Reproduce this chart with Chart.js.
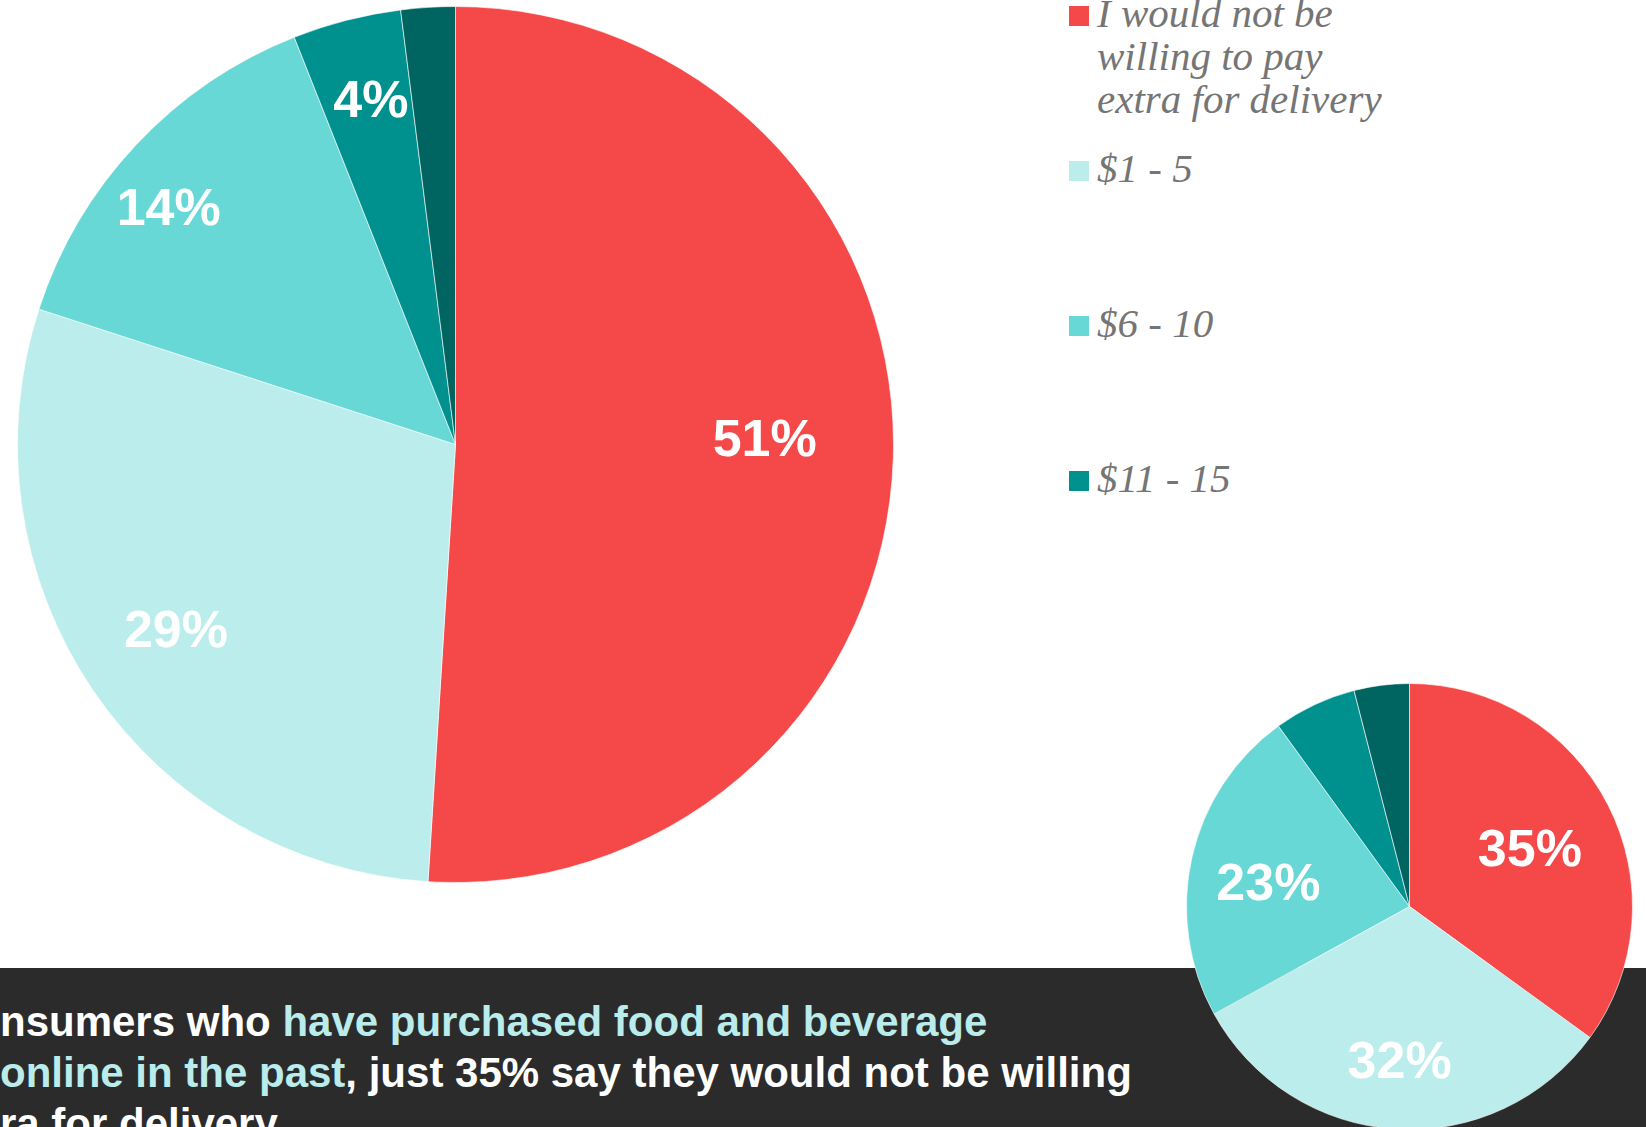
<!DOCTYPE html>
<html>
<head>
<meta charset="utf-8">
<script src="https://cdn.jsdelivr.net/npm/chart.js@4/dist/chart.umd.min.js"></script>
<style>
  html, body { margin: 0; padding: 0; width: 1646px; height: 1127px; overflow: hidden; background: #ffffff; }
  #band { position: absolute; left: 0; top: 968px; width: 1646px; height: 159px; background: #2b2b2b; z-index: 0; }
  #band .line { position: absolute; left: 0; white-space: nowrap; color: #ffffff;
    font-family: "Liberation Sans", Arial, sans-serif; font-weight: bold; font-size: 42px; line-height: 42px; }
  #band .hl { color: #b9eceb; }
  .pie { position: absolute; z-index: 1; }
  #legend { position: absolute; left: 1069px; top: 0; z-index: 2; }
  .item { position: absolute; left: 0; width: 400px; }
  .swatch { position: absolute; left: 0; width: 20px; height: 20px; }
  .label { position: absolute; left: 28px; white-space: nowrap; color: #757575;
    font-family: "Liberation Serif", "DejaVu Serif", serif; font-style: italic; font-size: 41px; line-height: 43px; }
</style>
</head>
<body>
<div id="band"></div>
<div id="legend"></div>
<div class="pie" style="left:17px; top:6px;"><canvas id="bigPie" width="877" height="877"></canvas></div>
<div class="pie" style="left:1186px; top:683px;"><canvas id="smallPie" width="447" height="447"></canvas></div>
<script>
// Answer categories (the last one has no legend entry)
const categories = ["I would not be willing to pay extra for delivery", "$1 - 5", "$6 - 10", "$11 - 15", "More than $15"];
const legendLines = [["I would not be", "willing to pay", "extra for delivery"], ["$1 - 5"], ["$6 - 10"], ["$11 - 15"]];
const sliceColors = ["#f54848", "#baedeb", "#67d8d5", "#00918e", "#006461"];

// All consumers (large pie) and past online food & beverage buyers (small pie), in percent
const allConsumers = [51, 29, 14, 4, 2];
const pastBuyers = [35, 32, 23, 6, 4];

// Which slices carry a percentage label
const allConsumersLabelled = [true, true, true, true, false];
const pastBuyersLabelled = [true, true, true, false, false];

// Caption lines in the dark band: [text, highlighted]
const captionLines = [
  [["nsumers who ", false], ["have purchased food and beverage", true]],
  [["online in the past", true], [", just 35% say they would not be willing", false]],
  [["ra for delivery.", false]]
];

// Percent labels drawn inside the slices; radius is a fraction of the outer
// radius, shift nudges the label around the slice's middle angle (degrees)
const sliceLabels = {
  id: 'sliceLabels',
  afterDatasetsDraw(chart, args, opts) {
    const ctx = chart.ctx;
    const meta = chart.getDatasetMeta(0);
    const values = chart.data.datasets[0].data;
    ctx.save();
    ctx.fillStyle = '#ffffff';
    ctx.font = 'bold ' + opts.size + 'px "Liberation Sans", Arial, sans-serif';
    ctx.textAlign = 'center';
    ctx.textBaseline = 'middle';
    meta.data.forEach((arc, i) => {
      if (!opts.show[i]) return;
      const p = arc.getProps(['x', 'y', 'startAngle', 'endAngle', 'outerRadius'], true);
      const mid = (p.startAngle + p.endAngle) / 2 + opts.shift[i] * Math.PI / 180;
      const r = p.outerRadius * opts.radius[i];
      ctx.fillText(values[i] + '%', p.x + Math.cos(mid) * r, p.y + Math.sin(mid) * r);
    });
    ctx.restore();
  }
};

function makePie(id, values, show, radius, shift) {
  return new Chart(document.getElementById(id), {
    type: 'pie',
    data: {
      labels: categories,
      datasets: [{ data: values, backgroundColor: sliceColors, borderColor: 'rgba(255,255,255,0.6)', borderWidth: 1 }]
    },
    options: {
      responsive: false,
      animation: false,
      layout: { padding: 0 },
      plugins: {
        legend: { display: false },
        tooltip: { enabled: false },
        sliceLabels: { show: show, radius: radius, shift: shift, size: 52 }
      }
    },
    plugins: [sliceLabels]
  });
}

makePie('bigPie', allConsumers, allConsumersLabelled, [0.706, 0.769, 0.845, 0.805, 0.8], [-2.4, 0.3, -4.0, 0.5, 0]);
makePie('smallPie', pastBuyers, pastBuyersLabelled, [0.593, 0.706, 0.64, 0.8, 0.8], [2.5, 0, -4.0, 0, 0]);

// Legend
const legend = document.getElementById('legend');
legendLines.forEach((lines, i) => {
  const item = document.createElement('div');
  item.className = 'item';
  item.style.top = (6 + i * 155) + 'px';
  const sw = document.createElement('div');
  sw.className = 'swatch';
  sw.style.background = sliceColors[i];
  const lab = document.createElement('div');
  lab.className = 'label';
  lab.style.top = '-14px';
  lines.forEach((t, k) => {
    if (k) lab.appendChild(document.createElement('br'));
    lab.appendChild(document.createTextNode(t));
  });
  item.appendChild(sw);
  item.appendChild(lab);
  legend.appendChild(item);
});

// Caption
const band = document.getElementById('band');
captionLines.forEach((parts, i) => {
  const line = document.createElement('div');
  line.className = 'line';
  line.style.top = (33 + i * 51) + 'px';
  parts.forEach(([t, hl]) => {
    const s = document.createElement('span');
    if (hl) s.className = 'hl';
    s.textContent = t;
    line.appendChild(s);
  });
  band.appendChild(line);
});
</script>
</body>
</html>
